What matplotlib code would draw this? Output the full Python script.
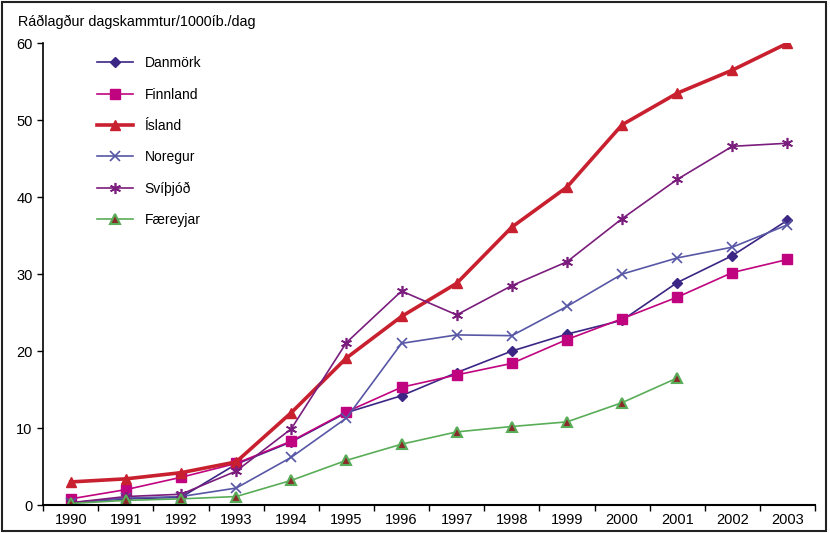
import matplotlib
matplotlib.use("Agg")
import matplotlib.pyplot as plt
from matplotlib.patches import Rectangle

plt.rcParams['font.family'] = ['Liberation Sans', 'DejaVu Sans']

years = list(range(1990, 2004))
danmork = [0.3, 0.8, 1.0, 5.3, 8.2, 12.0, 14.2, 17.2, 20.0, 22.2, 24.0, 28.9, 32.4, 37.0]
finnland = [0.8, 2.0, 3.6, 5.4, 8.3, 12.1, 15.3, 16.9, 18.4, 21.5, 24.2, 27.0, 30.2, 31.9]
island = [3.0, 3.4, 4.2, 5.6, 12.0, 19.1, 24.5, 28.8, 36.1, 41.3, 49.4, 53.5, 56.5, 60.0]
noregur = [0.3, 0.9, 1.1, 2.2, 6.2, 11.3, 21.0, 22.1, 22.0, 25.8, 30.0, 32.1, 33.5, 36.4]
svithjod = [0.3, 1.1, 1.4, 4.4, 9.9, 21.1, 27.8, 24.7, 28.5, 31.6, 37.2, 42.3, 46.6, 47.0]
faereyjar_years = list(range(1990, 2002))
faereyjar = [0.2, 0.6, 0.8, 1.1, 3.2, 5.8, 7.9, 9.5, 10.2, 10.8, 13.3, 16.5]

fig = plt.figure(figsize=(8.3, 5.33), dpi=100)
ax = fig.add_axes([0.052, 0.0525, 0.93, 0.8665])

ax.plot(years, danmork, color='#3b2585', lw=1.2, marker='D', ms=5, label='Danmörk')
ax.plot(years, finnland, color='#c0047f', lw=1.2, marker='s', ms=7, label='Finnland')
ax.plot(years, island, color='#c8202f', lw=2.6, marker='^', ms=7, label='Ísland')
ax.plot(years, noregur, color='#5757a6', lw=1.2, marker='x', ms=7, mew=1.2, label='Noregur')
ax.plot(years, svithjod, color='#7a1d7c', lw=1.2, marker=(6, 2, 0), ms=8, mew=1.2, label='Svíþjóð')
ax.plot(faereyjar_years, faereyjar, color='#5aad58', lw=1.2, marker='^', ms=7,
        mfc='#8b2a2a', mec='#5aad58', mew=1.5, label='Færeyjar')

ax.set_xlim(1989.5, 2003.5)
ax.set_ylim(0, 60)
ax.set_xticks(years)
ax.set_xticks([y + 0.5 for y in [1989] + years], minor=True)
ax.tick_params(axis='x', which='major', length=0, labelsize=10.5, pad=6)
ax.tick_params(axis='x', which='minor', length=4, direction='out', width=1)
ax.tick_params(axis='y', length=4, direction='out', labelsize=10.5, width=1)
ax.set_yticks(range(0, 61, 10))
for s in ['top', 'right']:
    ax.spines[s].set_visible(False)
ax.spines['left'].set_linewidth(1.2)
ax.spines['bottom'].set_linewidth(1.5)

fig.text(0.022, 0.958, 'Ráðlagður dagskammtur/1000íb./dag', fontsize=10.4, va='center')

ax.legend(loc='upper left', bbox_to_anchor=(0.102, 0.918), bbox_transform=fig.transFigure,
          frameon=False, fontsize=10, labelspacing=1.25, handlelength=2.6, handletextpad=0.8)

fig.patches.append(Rectangle((0.003, 0.004), 0.992, 0.992, transform=fig.transFigure,
                             fill=False, edgecolor='#222222', lw=1.5))

fig.savefig('out.png', dpi=100)
